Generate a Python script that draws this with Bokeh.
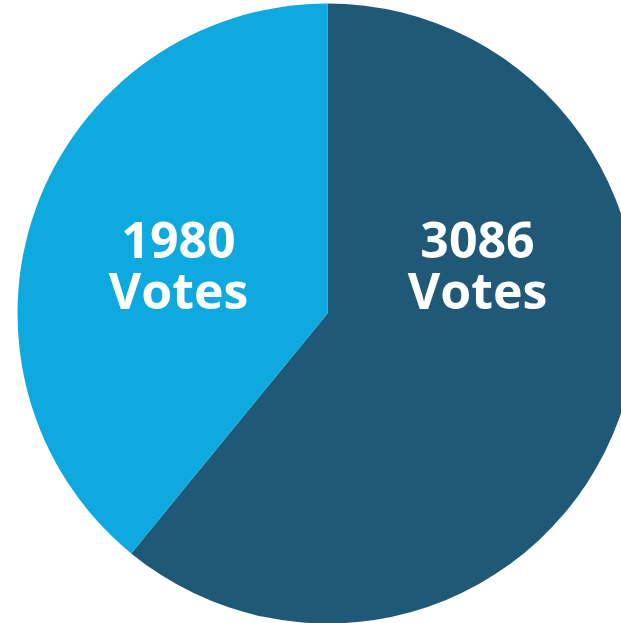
import math
from bokeh.plotting import figure
from bokeh.models import ColumnDataSource
from bokeh.core.properties import value
from bokeh.embed import file_html
from bokeh.resources import INLINE

categories = ["A", "B"]
votes = [3086, 1980]
colors = ["#1f5977", "#0eaadf"]
numbers = [str(v) for v in votes]
unit = ["Votes", "Votes"]

W, H = 621, 623
cx, cy, r = 327, H - 313, 310
label_x = [477, 178]

total = sum(votes)
starts, ends = [], []
cum = 0
for v in votes:
    a_end = math.pi / 2 - cum / total * 2 * math.pi
    cum += v
    a_start = math.pi / 2 - cum / total * 2 * math.pi
    starts.append(a_start)
    ends.append(a_end)

src = ColumnDataSource(dict(cat=categories, v=votes, color=colors,
                            start=starts, end=ends,
                            x=[cx] * len(votes), y=[cy] * len(votes),
                            lx=label_x, ly1=[H - 239] * 2, ly2=[H - 289] * 2,
                            num=numbers, unit=unit))

p = figure(width=W, height=H, x_range=(0, W), y_range=(0, H),
           output_backend="svg", toolbar_location=None, min_border=0)
p.axis.visible = False
p.grid.visible = False
p.outline_line_color = None
p.background_fill_color = "white"

p.wedge(x="x", y="y", radius=r, start_angle="start", end_angle="end",
        fill_color="color", line_color=None, source=src)

common = dict(text_color="white", text_font=value("Open Sans"),
              text_font_style="bold", text_font_size="50px",
              text_align="center", text_baseline="alphabetic", source=src)
p.text(x="lx", y="ly1", text="num", **common)
p.text(x="lx", y="ly2", text="unit", **common)

open("out.html", "w").write(file_html(p, INLINE))
